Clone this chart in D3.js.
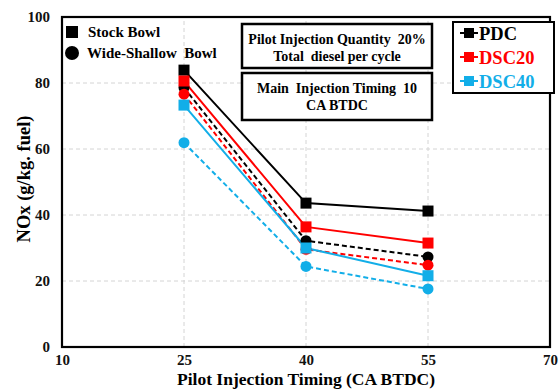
<!DOCTYPE html>
<html>
<head>
<meta charset="utf-8">
<script src="https://cdn.jsdelivr.net/npm/d3@7"></script>
<style>
  body { margin: 0; background: #fff; }
  svg text { font-family: "Liberation Serif", "Times New Roman", serif; font-weight: bold; }
</style>
</head>
<body>
<div id="chart"></div>
<script>
// Data
const timings = [25, 40, 55];
const xTicks = [10, 25, 40, 55, 70];
const yTicks = [0, 20, 40, 60, 80, 100];

const pdcStock = [83.9, 43.6, 41.2];
const pdcWide = [78.6, 32.2, 27.3];
const dsc20Stock = [80.6, 36.4, 31.5];
const dsc20Wide = [76.6, 29.6, 24.8];
const dsc40Stock = [73.3, 30.0, 21.6];
const dsc40Wide = [61.9, 24.4, 17.6];

const fuels = ['PDC', 'DSC20', 'DSC40'];
const colors = { PDC: '#000000', DSC20: '#ff0000', DSC40: '#12aee8' };

const series = [
    { fuel: 'PDC', bowl: 'stock', values: pdcStock },
    { fuel: 'PDC', bowl: 'wide', values: pdcWide },
    { fuel: 'DSC20', bowl: 'stock', values: dsc20Stock },
    { fuel: 'DSC20', bowl: 'wide', values: dsc20Wide },
    { fuel: 'DSC40', bowl: 'stock', values: dsc40Stock },
    { fuel: 'DSC40', bowl: 'wide', values: dsc40Wide }
];

const width = 560, height = 389;
const margin = { top: 17, right: 10, bottom: 42, left: 62 };

const svg = d3.select('#chart')
    .append('svg')
    .attr('width', width)
    .attr('height', height);

const x = d3.scaleLinear().domain([10, 70]).range([margin.left, width - margin.right]);
const y = d3.scaleLinear().domain([0, 100]).range([height - margin.bottom, margin.top]);

// Grid lines
svg.append('g')
    .selectAll('line.hgrid')
    .data(yTicks.filter(d => d > 0 && d < 100))
    .enter()
    .append('line')
    .attr('x1', x(10)).attr('x2', x(70))
    .attr('y1', d => y(d)).attr('y2', d => y(d))
    .attr('stroke', '#d4d4d4').attr('stroke-dasharray', '4,3');

svg.append('g')
    .selectAll('line.vgrid')
    .data(xTicks.filter(d => d > 10 && d < 70))
    .enter()
    .append('line')
    .attr('x1', d => x(d)).attr('x2', d => x(d))
    .attr('y1', y(0)).attr('y2', y(100))
    .attr('stroke', '#d4d4d4').attr('stroke-dasharray', '4,3');

// Axes (labels only, no tick marks)
const xAxis = svg.append('g')
    .attr('transform', `translate(0,${y(0)})`)
    .call(d3.axisBottom(x).tickValues(xTicks).tickSize(0).tickPadding(7));
xAxis.select('.domain').remove();
xAxis.selectAll('text').attr('font-size', 15).attr('fill', '#111')
    .style('font-family', '"Liberation Serif", serif').style('font-weight', 'bold');

const yAxis = svg.append('g')
    .attr('transform', `translate(${x(10)},0)`)
    .call(d3.axisLeft(y).tickValues(yTicks).tickSize(0).tickPadding(12));
yAxis.select('.domain').remove();
yAxis.selectAll('text').attr('font-size', 15).attr('fill', '#111')
    .style('font-family', '"Liberation Serif", serif').style('font-weight', 'bold');

// Plot frame
svg.append('rect')
    .attr('x', x(10)).attr('y', y(100))
    .attr('width', x(70) - x(10)).attr('height', y(0) - y(100))
    .attr('fill', 'none').attr('stroke', '#000').attr('stroke-width', 2.2);

// Axis titles
svg.append('text')
    .attr('x', x(40))
    .attr('y', 385)
    .attr('text-anchor', 'middle')
    .attr('font-size', 17.5)
    .text('Pilot Injection Timing (CA BTDC)');

svg.append('text')
    .attr('transform', `translate(30,179) rotate(-90)`)
    .attr('text-anchor', 'middle')
    .attr('font-size', 18.5)
    .text('NOx (g/kg. fuel)');

// Lines
const line = d3.line()
    .x((d, i) => x(timings[i]))
    .y(d => y(d));

series.forEach(s => {
    svg.append('path')
        .datum(s.values)
        .attr('d', line)
        .attr('fill', 'none')
        .attr('stroke', colors[s.fuel])
        .attr('stroke-width', 2)
        .attr('stroke-dasharray', s.bowl === 'wide' ? '5,3' : null);
});

// Markers
series.forEach(s => {
    const g = svg.append('g').attr('fill', colors[s.fuel]);
    if (s.bowl === 'stock') {
        g.selectAll('rect')
            .data(s.values)
            .enter()
            .append('rect')
            .attr('x', (d, i) => x(timings[i]) - 5.5)
            .attr('y', d => y(d) - 5.5)
            .attr('width', 11).attr('height', 11);
    } else {
        g.selectAll('circle')
            .data(s.values)
            .enter()
            .append('circle')
            .attr('cx', (d, i) => x(timings[i]))
            .attr('cy', d => y(d))
            .attr('r', 5.5);
    }
});

// Bowl legend (top-left)
svg.append('rect').attr('x', 66).attr('y', 26).attr('width', 12).attr('height', 12).attr('fill', '#000');
svg.append('text').attr('x', 88).attr('y', 37).attr('font-size', 15).text('Stock Bowl');
svg.append('circle').attr('cx', 72).attr('cy', 53).attr('r', 7).attr('fill', '#000');
svg.append('text').attr('x', 87).attr('y', 58).attr('font-size', 15).attr('xml:space', 'preserve').text('Wide-Shallow  Bowl');

// Annotation boxes
const notes = [
    { y0: 24, y1: 68, lines: ['Pilot Injection Quantity  20%', 'Total  diesel per cycle'] },
    { y0: 73, y1: 120, lines: ['Main  Injection Timing  10', 'CA BTDC'] }
];
notes.forEach(n => {
    svg.append('rect')
        .attr('x', 242).attr('y', n.y0)
        .attr('width', 190).attr('height', n.y1 - n.y0)
        .attr('fill', '#fff').attr('stroke', '#000').attr('stroke-width', 2.5);
    n.lines.forEach((t, i) => {
        svg.append('text')
            .attr('x', 337)
            .attr('y', n.y0 + 20 + i * 17)
            .attr('text-anchor', 'middle')
            .attr('font-size', 14)
            .attr('xml:space', 'preserve')
            .text(t);
    });
});

// Fuel legend (top-right)
svg.append('rect')
    .attr('x', 453).attr('y', 22)
    .attr('width', 101).attr('height', 71)
    .attr('fill', '#fff').attr('stroke', '#000').attr('stroke-width', 2);

fuels.forEach((f, i) => {
    const cy = 33 + i * 24;
    svg.append('line')
        .attr('x1', 460).attr('x2', 478)
        .attr('y1', cy).attr('y2', cy)
        .attr('stroke', colors[f]).attr('stroke-width', 2);
    svg.append('rect')
        .attr('x', 464).attr('y', cy - 5)
        .attr('width', 10).attr('height', 10)
        .attr('fill', colors[f]);
    svg.append('text')
        .attr('x', 479).attr('y', cy + 6.5)
        .attr('font-size', 18.5)
        .attr('fill', colors[f])
        .text(f);
});
</script>
</body>
</html>
